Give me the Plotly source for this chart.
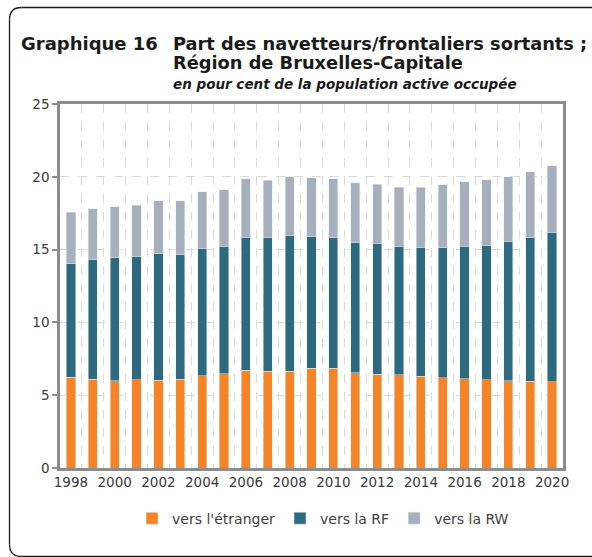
import plotly.graph_objects as go

years = list(range(1998, 2021))

# cumulative tops (en % de la population active occupée)
top_etranger = [6.25, 6.10, 5.98, 6.07, 6.03, 6.08, 6.35, 6.46, 6.70, 6.65, 6.63, 6.84,
                6.84, 6.53, 6.44, 6.42, 6.30, 6.21, 6.14, 6.07, 6.00, 5.96, 5.91]
top_rf = [14.02, 14.30, 14.43, 14.55, 14.73, 14.64, 15.10, 15.22, 15.85, 15.80, 15.98, 15.90,
          15.80, 15.50, 15.42, 15.22, 15.15, 15.13, 15.22, 15.29, 15.54, 15.83, 16.20]
top_rw = [17.55, 17.82, 17.94, 18.05, 18.37, 18.35, 18.97, 19.10, 19.86, 19.75, 20.00, 19.93,
          19.85, 19.60, 19.50, 19.27, 19.27, 19.45, 19.66, 19.79, 20.00, 20.34, 20.77]

vers_etranger = top_etranger
vers_rf = [round(b - a, 2) for a, b in zip(top_etranger, top_rf)]
vers_rw = [round(c - b, 2) for b, c in zip(top_rf, top_rw)]

FONT = "DejaVu Sans"
W, H = 592, 557
ML, MR, MT, MB = 60, 29, 104, 89

fig = go.Figure()
fig.add_trace(go.Bar(x=years, y=vers_etranger, name="vers l'étranger", marker_color="#F58426"))
fig.add_trace(go.Bar(x=years, y=vers_rf, name="vers la RF", marker_color="#2D6A7F"))
fig.add_trace(go.Bar(x=years, y=vers_rw, name="vers la RW", marker_color="#A6B0BD"))

pw = W - ML - MR
ph = H - MT - MB


def px(x):
    return (x - ML) / pw


def py(y):
    return (H - MB - y) / ph


# outer frame: open on the right, rounded on the left corners
x0, y0, x1, y1, r = px(9.5), py(7.5), px(592), py(556.5), 12
rx, ry = r / pw, r / ph
frame_line = dict(color="#1a1a1a", width=1.3)
frame = [
    dict(type="line", xref="paper", yref="paper", x0=x0 + rx, y0=y0, x1=x1, y1=y0, line=frame_line),
    dict(type="line", xref="paper", yref="paper", x0=x0, y0=y0 - ry, x1=x0, y1=y1 + ry, line=frame_line),
    dict(type="line", xref="paper", yref="paper", x0=x0 + rx, y0=y1, x1=x1, y1=y1, line=frame_line),
    dict(type="path", xref="paper", yref="paper", line=frame_line,
         path=f"M {x0 + rx},{y0} Q {x0},{y0} {x0},{y0 - ry}"),
    dict(type="path", xref="paper", yref="paper", line=frame_line,
         path=f"M {x0},{y1 + ry} Q {x0},{y1} {x0 + rx},{y1}"),
]

fig.update_layout(
    width=W, height=H,
    margin=dict(l=ML, r=MR, t=MT, b=MB),
    barmode="stack",
    bargap=0.58,
    plot_bgcolor="white",
    paper_bgcolor="white",
    font=dict(family=FONT, size=13, color="#3a3a3a"),
    showlegend=True,
    legend=dict(orientation="h", x=0.523, xanchor="center", y=-0.095, yanchor="top",
                font=dict(size=14, color="#404040"), traceorder="normal",
                itemwidth=30, tracegroupgap=0),
    shapes=frame,
    annotations=[
        dict(text="<b>Graphique 16</b>", xref="paper", yref="paper",
             x=px(19), y=py(44), xanchor="left", yanchor="middle", showarrow=False,
             font=dict(size=18, color="#1a1a1a")),
        dict(text="<b>Part des navetteurs/frontaliers sortants ;</b>", xref="paper", yref="paper",
             x=px(171), y=py(44), xanchor="left", yanchor="middle", showarrow=False,
             font=dict(size=17.8, color="#1a1a1a")),
        dict(text="<b>Région de Bruxelles-Capitale</b>", xref="paper", yref="paper",
             x=px(171), y=py(62.5), xanchor="left", yanchor="middle", showarrow=False,
             font=dict(size=17.8, color="#1a1a1a")),
        dict(text="<b><i>en pour cent de la population active occupée</i></b>", xref="paper", yref="paper",
             x=px(171), y=py(83.5), xanchor="left", yanchor="middle", showarrow=False,
             font=dict(size=13.5, color="#1a1a1a")),
    ],
)

fig.update_xaxes(
    range=[1997.5, 2020.5],
    tickvals=list(range(1998, 2021, 2)),
    ticks="", showgrid=False,
    showline=True, linecolor="#8C8C8C", linewidth=2.5, mirror=True,
    tickfont=dict(size=13.5, color="#3a3a3a"),
    minor=dict(tickvals=[y + 0.5 for y in years[:-1]], showgrid=True,
               gridcolor="#D9D9D9", griddash="dash", gridwidth=1, ticks=""),
    zeroline=False,
)
fig.update_yaxes(
    range=[0, 25], dtick=5,
    ticks="outside", ticklen=5, tickcolor="#8C8C8C", tickwidth=2,
    showgrid=True, gridcolor="#D9D9D9", griddash="dash", gridwidth=1,
    showline=True, linecolor="#8C8C8C", linewidth=2.5, mirror=True,
    tickfont=dict(size=13.5, color="#3a3a3a"),
    zeroline=False,
)

fig.write_html("out.html", config={"displayModeBar": False},
               post_script="document.body.style.margin='0';")
